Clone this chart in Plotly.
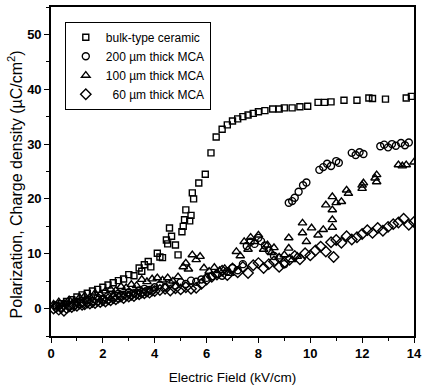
import plotly.graph_objects as go

# Bulk-type ceramic (squares)
SQ_X = [
    0.2, 0.4, 0.6, 0.8, 1.0, 1.2, 1.4, 1.6, 1.8, 2.0,
    2.2, 2.4, 2.6, 2.8, 3.0, 3.2, 3.4, 3.5, 3.6, 3.75,
    3.85, 4.1, 4.2, 4.3, 4.45, 4.5, 4.57, 4.65, 4.8, 4.9,
    5.05, 5.1, 5.15, 5.2, 5.35, 5.4, 5.45, 5.5, 5.7, 5.95,
    6.17, 6.37, 6.6, 6.8, 7.0, 7.2, 7.4, 7.6, 7.8, 8.0,
    8.25, 8.55, 8.8, 9.0, 9.3, 9.6, 9.9, 10.3, 10.55, 10.8,
    11.3, 11.8, 12.26, 12.4, 12.9, 13.7, 13.9]
SQ_Y = [
    0.6, 0.9, 1.3, 1.6, 2.1, 2.5, 2.8, 3.2, 3.5, 3.9,
    4.3, 4.7, 5.1, 5.4, 6.2, 6.0, 7.4, 6.8, 8.0, 8.6,
    7.6, 10.1, 9.4, 9.3, 12.5, 11.8, 14.7, 13.2, 11.6, 9.8,
    14.0, 15.0, 16.2, 18.0, 16.0, 17.0, 21.1, 20.0, 22.9, 24.5,
    28.4, 31.3, 32.7, 33.5, 34.2, 34.6, 35.0, 35.3, 35.6, 35.9,
    36.1, 36.4, 36.4, 36.6, 36.6, 36.8, 36.9, 37.6, 37.6, 37.7,
    38.0, 38.0, 38.4, 38.3, 38.2, 38.4, 38.7]

# 200 um thick MCA (circles)
CIR_X = [
    0.2, 0.4, 0.6, 0.8, 1.0, 1.2, 1.4, 1.6, 1.8, 2.0,
    2.2, 2.4, 2.6, 2.8, 3.0, 3.2, 3.4, 3.6, 3.8, 4.0,
    4.2, 4.4, 4.6, 4.8, 5.0, 5.2, 5.4, 5.6, 5.8, 6.0,
    6.2, 6.4, 6.6, 6.8, 7.0, 7.2, 7.4, 7.55, 7.7, 7.85,
    8.0, 8.1, 8.25, 8.4, 8.6, 8.8, 9.0, 9.17, 9.3, 9.4,
    9.55, 9.72, 9.85, 10.35, 10.5, 10.65, 10.8, 11.0, 11.1, 11.6,
    11.75, 11.9, 12.05, 12.7, 12.85, 13.0, 13.15, 13.3, 13.5, 13.65,
    13.8]
CIR_Y = [
    0.5, 0.2, 0.9, 0.6, 1.2, 1.0, 1.6, 1.4, 2.0, 1.8,
    2.3, 2.1, 2.7, 2.5, 3.0, 2.8, 3.3, 3.6, 3.4, 3.9,
    4.3, 3.9, 4.5, 4.2, 4.8, 4.5, 5.1, 4.9, 5.3, 5.6,
    5.9, 6.3, 6.0, 6.8, 7.4, 7.0, 8.1, 11.4, 12.2, 11.8,
    12.9, 12.3, 11.5, 10.6, 9.6, 9.2, 8.1, 19.3, 19.6, 20.2,
    21.3, 22.5, 23.0, 25.3, 25.8, 26.4, 26.0, 26.9, 26.6, 28.4,
    28.0, 28.5, 28.2, 29.6, 29.9, 29.4, 30.0, 29.7, 30.2, 29.8,
    30.3]

# 100 um thick MCA (triangles)
TRI_X = [
    0.1, 0.3, 0.5, 0.7, 0.9, 1.1, 1.3, 1.5, 1.7, 1.9,
    2.1, 2.3, 2.5, 2.7, 2.9, 3.1, 3.3, 3.5, 3.7, 3.9,
    4.1, 4.3, 4.5, 4.7, 4.9, 5.1, 5.2, 5.3, 5.45, 5.6,
    5.75, 5.9, 6.1, 6.3, 6.5, 6.7, 6.9, 7.15, 7.3, 7.45,
    7.6, 7.7, 7.85, 8.0, 8.2, 8.35, 8.5, 8.6, 8.8, 9.0,
    9.17, 9.17, 9.3, 9.5, 9.7, 9.7, 9.85, 10.05, 10.3, 10.5,
    10.6, 10.85, 10.85, 10.85, 10.85, 11.0, 11.2, 11.4, 11.47, 12.0,
    12.0, 12.05, 12.5, 12.56, 12.56, 13.4, 13.55, 13.7, 14.0]
TRI_Y = [
    0.8, 1.2, 0.9, 1.6, 1.4, 2.0, 2.3, 2.1, 2.8, 2.6,
    3.2, 3.5, 3.3, 4.0, 3.8, 4.4, 4.2, 5.3, 4.9, 5.4,
    5.6, 5.2, 5.6, 5.0, 5.8, 7.6, 8.3, 7.2, 9.8, 8.9,
    9.5, 7.4, 6.8, 7.5, 6.9, 7.3, 6.4, 10.4, 9.6, 12.2,
    10.8, 13.0, 12.2, 13.4, 10.8, 11.6, 10.2, 11.1, 9.4, 9.8,
    12.9, 11.0, 8.9, 9.5, 15.6, 13.8, 12.2, 14.7, 13.4, 14.4,
    18.9, 20.4, 16.2, 14.8, 18.0, 19.3, 19.5, 21.6, 21.0, 22.5,
    21.9, 22.9, 23.8, 24.4, 23.1, 26.2, 26.0, 26.2, 26.7]

# 60 um thick MCA (diamonds)
DIA_X = [
    0.1, 0.2, 0.3, 0.4, 0.5, 0.6, 0.7, 0.8, 0.9, 1.0,
    1.1, 1.2, 1.3, 1.4, 1.5, 1.6, 1.7, 1.8, 1.9, 2.0,
    2.1, 2.2, 2.3, 2.4, 2.5, 2.6, 2.7, 2.8, 2.9, 3.0,
    3.1, 3.2, 3.3, 3.4, 3.5, 3.6, 3.7, 3.8, 3.9, 4.0,
    4.2, 4.4, 4.6, 4.8, 5.0, 5.2, 5.4, 5.6, 5.8, 6.0,
    6.2, 6.4, 6.6, 6.8, 7.0, 7.2, 7.4, 7.6, 7.8, 8.0,
    8.2, 8.4, 8.6, 8.8, 9.0, 9.2, 9.4, 9.6, 9.8, 10.0,
    10.2, 10.4, 10.6, 10.8, 10.9, 11.0, 11.2, 11.4, 11.6, 11.8,
    12.0, 12.2, 12.4, 12.6, 12.8, 13.0, 13.2, 13.4, 13.6, 13.8,
    14.0]
DIA_Y = [
    0.0, 0.3, -0.2, 0.2, -0.4, 0.1, 0.4, 0.3, 0.6, 0.5,
    0.9, 0.7, 0.8, 1.1, 0.9, 1.2, 1.0, 1.4, 1.2, 1.5,
    1.3, 1.7, 1.5, 1.9, 1.7, 2.0, 2.2, 1.9, 2.4, 2.2,
    2.5, 2.3, 2.7, 2.6, 2.9, 2.8, 3.1, 2.9, 3.3, 3.2,
    3.4, 3.6, 3.3, 3.7, 3.5, 3.9, 3.6, 3.8, 4.5, 5.3,
    5.8, 6.2, 6.9, 6.1, 7.3, 6.6, 7.6, 6.5, 7.9, 8.3,
    7.4, 8.1, 8.6, 7.6, 8.4, 8.9, 9.6, 9.0, 10.1, 9.7,
    10.6, 11.3, 10.4, 12.1, 9.4, 12.5, 12.0, 13.2, 12.6, 13.0,
    13.6, 14.3, 13.8, 14.7, 14.2, 14.9, 15.4, 15.7, 16.4, 15.3,
    15.8]

NAMES = ["bulk-type ceramic", "200 \u00b5m thick MCA", "100 \u00b5m thick MCA",
         "\u200760 \u00b5m thick MCA"]
X_TITLE = "Electric Field (kV/cm)"
Y_TITLE = "Polarization, Charge density (\u00b5C/cm<sup>2</sup>)"

FONT = "Liberation Sans, Arial, sans-serif"

series = [
    (SQ_X, SQ_Y, NAMES[0], "square-open", 6),
    (CIR_X, CIR_Y, NAMES[1], "circle-open", 7),
    (TRI_X, TRI_Y, NAMES[2], "triangle-up-open", 7.5),
    (DIA_X, DIA_Y, NAMES[3], "diamond-open", 8),
]

fig = go.Figure()
for xs, ys, name, sym, sz in series:
    fig.add_trace(go.Scatter(
        x=xs, y=ys, mode="markers", name=name,
        marker=dict(symbol=sym, size=sz, color="black",
                    line=dict(color="black", width=1.4)),
    ))

axis_common = dict(
    showline=True, linecolor="black", linewidth=1.6, mirror=True,
    ticks="outside", ticklen=5, tickwidth=1.4, tickcolor="black",
    showgrid=False, zeroline=False,
    tickfont=dict(family=FONT, size=13, color="black", weight="bold"),
    ticklabeloverflow="allow",
)

fig.update_xaxes(
    range=[0, 14], dtick=2, tick0=0,
    minor=dict(ticks="outside", ticklen=3, tickwidth=1.2, dtick=1, tickcolor="black"),
    title=dict(text=X_TITLE, standoff=12,
               font=dict(family=FONT, size=13.5, color="black")),
    **axis_common,
)
fig.update_yaxes(
    range=[-5, 55], dtick=10, tick0=0,
    minor=dict(ticks="outside", ticklen=3, tickwidth=1.2, dtick=5, tickcolor="black"),
    **axis_common,
)

fig.add_annotation(
    text=Y_TITLE, textangle=-90, showarrow=False,
    xref="paper", yref="paper", x=-0.098, y=0.462,
    xanchor="center", yanchor="middle",
    font=dict(family=FONT, size=16, color="black"),
)

fig.update_layout(
    width=427, height=391,
    margin=dict(l=51, r=6, t=5, b=55),
    paper_bgcolor="white", plot_bgcolor="white",
    font=dict(family=FONT, color="black"),
    legend=dict(
        x=0.038, y=0.955, xanchor="left", yanchor="top",
        bgcolor="white", bordercolor="black", borderwidth=1,
        font=dict(family=FONT, size=12, color="black"),
        tracegroupgap=0, itemwidth=30,
    ),
)

fig.write_html("out.html")
